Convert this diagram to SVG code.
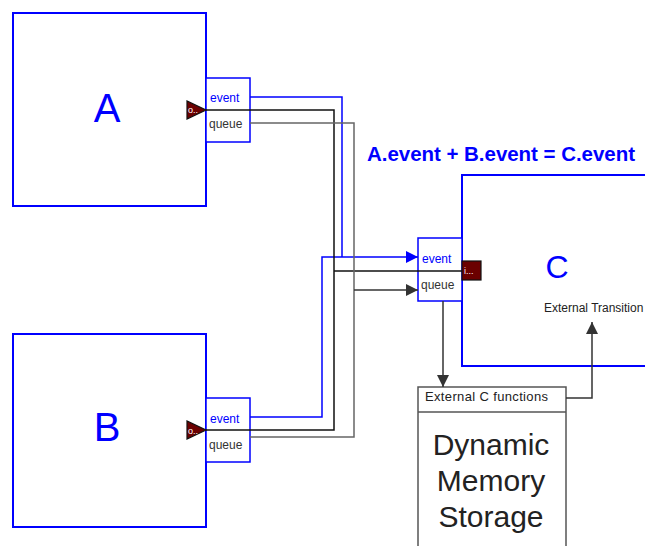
<svg xmlns="http://www.w3.org/2000/svg" width="645" height="546" viewBox="0 0 645 546">
<defs>
<style>
.blk{fill:#fff;stroke:#0000ff;stroke-width:2}
.port{fill:#fff;stroke:#0000ff;stroke-width:1.5}
.big{font-family:"Liberation Sans",Arial,sans-serif;fill:#0000ff;text-anchor:middle}
.pl{font-family:"Liberation Sans",Arial,sans-serif;font-size:12px}
.ev{fill:#0000ff}
.qu{fill:#333}
.tri{fill:#6b0000;stroke:#111;stroke-width:1.2}
.tt{font-family:"Liberation Sans",Arial,sans-serif;font-size:9px;fill:#fff}
.wb{fill:none;stroke:#0000ff;stroke-width:1.5}
.wk{fill:none;stroke:#111;stroke-width:1.5}
.wg{fill:none;stroke:#666;stroke-width:1.5}
.wd{fill:none;stroke:#333;stroke-width:1.5}
.gt{font-family:"Liberation Sans",Arial,sans-serif;fill:#222}
</style>
<marker id="ab" viewBox="0 0 12 12" refX="12" refY="6" markerWidth="12" markerHeight="12" markerUnits="userSpaceOnUse" orient="auto"><path d="M0,0 L12,6 L0,12 z" fill="#0000ff"/></marker>
<marker id="ad" viewBox="0 0 12 12" refX="12" refY="6" markerWidth="12" markerHeight="12" markerUnits="userSpaceOnUse" orient="auto"><path d="M0,0 L12,6 L0,12 z" fill="#333"/></marker>
</defs>

<g id="A">
<rect class="blk" x="13" y="13" width="193" height="193"/>
<text class="big" x="107" y="122" font-size="40">A</text>
<rect class="port" x="206" y="78" width="44" height="64"/>
<text class="pl ev" x="210" y="102">event</text>
<text class="pl qu" x="209" y="128">queue</text>
<polygon class="tri" points="187,101 187,119 206,110"/>
<text class="tt" x="188" y="113">o..</text>
</g>

<g id="B">
<rect class="blk" x="13" y="334" width="193" height="193"/>
<text class="big" x="107" y="441" font-size="40">B</text>
<rect class="port" x="206" y="398" width="44" height="64"/>
<text class="pl ev" x="210" y="423">event</text>
<text class="pl qu" x="209" y="449">queue</text>
<polygon class="tri" points="187,421 187,439 206,430"/>
<text class="tt" x="188" y="434">o..</text>
</g>

<g id="C">
<rect class="blk" x="462" y="175" width="200" height="191"/>
<text class="big" x="557" y="278" font-size="32">C</text>
<text class="gt" x="544" y="312" font-size="12">External Transition</text>
<rect class="port" x="418" y="238" width="44" height="63"/>
<text class="pl ev" x="422" y="263">event</text>
<text class="pl qu" x="421" y="289">queue</text>
<rect x="462" y="261" width="19" height="19" fill="#6b0000" stroke="#111" stroke-width="1.2"/>
<text class="tt" x="464" y="274">i...</text>
</g>

<g id="ExtC">
<rect x="418" y="387" width="148" height="170" fill="#fff" stroke="#555" stroke-width="1.5"/>
<line x1="418" y1="412" x2="566" y2="412" stroke="#555" stroke-width="1.5"/>
<text class="gt" x="425" y="401" font-size="13" textLength="123">External C functions</text>
<text class="gt" x="491" y="455" font-size="30" text-anchor="middle" fill="#2a2a2a">Dynamic</text>
<text class="gt" x="491" y="491" font-size="30" text-anchor="middle" fill="#2a2a2a">Memory</text>
<text class="gt" x="491" y="527" font-size="30" text-anchor="middle" fill="#2a2a2a">Storage</text>
</g>

<g id="title">
<text x="367" y="161" font-family="'Liberation Sans',Arial,sans-serif" font-size="20.5" font-weight="bold" fill="#0000ff" textLength="268">A.event + B.event = C.event</text>
</g>

<g id="connectors">
<polyline class="wb" points="250,97 342,97 342,257"/>
<polyline class="wb" points="250,417 322,417 322,257 418,257" marker-end="url(#ab)"/>
<polyline class="wk" points="206,110 334,110 334,430 206,430"/>
<line class="wk" x1="334" y1="271" x2="462" y2="271"/>
<polyline class="wg" points="250,123 354,123 354,437 250,437"/>
<polyline class="wd" points="354,290 418,290" marker-end="url(#ad)"/>
<polyline class="wd" points="443,301 443,387" marker-end="url(#ad)"/>
<polyline class="wd" points="566,398 592,398 592,322" marker-end="url(#ad)"/>
</g>
</svg>
